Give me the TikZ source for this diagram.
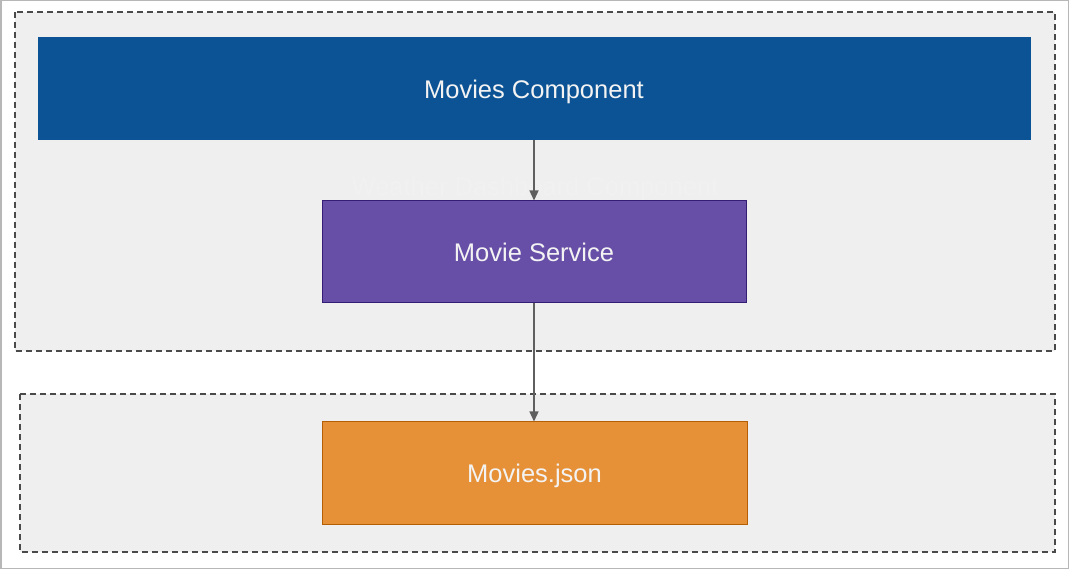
\documentclass[tikz,border=0pt]{standalone}
\usepackage{fontspec}
\setmainfont{Liberation Sans}
\usetikzlibrary{arrows.meta}
\definecolor{mcblue}{HTML}{0B5394}
\definecolor{mspurple}{HTML}{674EA7}
\definecolor{mspurpleb}{HTML}{351C75}
\definecolor{mjorange}{HTML}{E69138}
\definecolor{mjorangeb}{HTML}{B45F06}
\definecolor{groupfill}{HTML}{EFEFEF}
\definecolor{dashcol}{HTML}{4A4A4A}
\definecolor{arrowcol}{HTML}{5F5F5F}
\definecolor{framecol}{HTML}{B7B7B7}
\definecolor{faintcol}{HTML}{F1F1F1}
\definecolor{txtcol}{HTML}{F3F3F3}
\tikzset{
  groupbox/.style={draw=dashcol, fill=groupfill, line width=1.1pt, dash pattern=on 6pt off 4pt},
  blockbox/.style={rectangle, minimum height=102pt, inner sep=0pt, line width=1pt,
    text=txtcol, font=\fontsize{25.5}{30}\selectfont, text depth=0pt},
  conn/.style={draw=arrowcol, line width=1.3pt, -{Triangle[length=10pt,width=9pt]}},
}
\begin{document}
\begin{tikzpicture}[x=1pt,y=-1pt]
\useasboundingbox (0,0) rectangle (1069,569);
\draw[framecol, line width=1.5pt] (0.75,0.75) rectangle (1068.25,568.25);
% groups
\draw[groupbox] (15,12) rectangle (1055,351);
\draw[groupbox] (20,394) rectangle (1055,552);
% faint group label
\node[text=faintcol, font=\fontsize{25.5}{30}\selectfont, text depth=0pt] (glabel) at (535,186) {Weather Dashboard Component};
% blocks
\node[blockbox, fill=mcblue, draw=mcblue, minimum width=992pt] (mc) at (534,89) {Movies Component};
\node[blockbox, fill=mspurple, draw=mspurpleb, minimum width=424pt] (ms) at (534,252) {Movie Service};
\node[blockbox, fill=mjorange, draw=mjorangeb, minimum width=425pt] (mj) at (534.5,473) {Movies.json};
% connectors
\draw[conn] (mc.south) -- (ms.north);
\draw[conn] (ms.south) -- (ms.south |- mj.north);
\end{tikzpicture}
\end{document}
